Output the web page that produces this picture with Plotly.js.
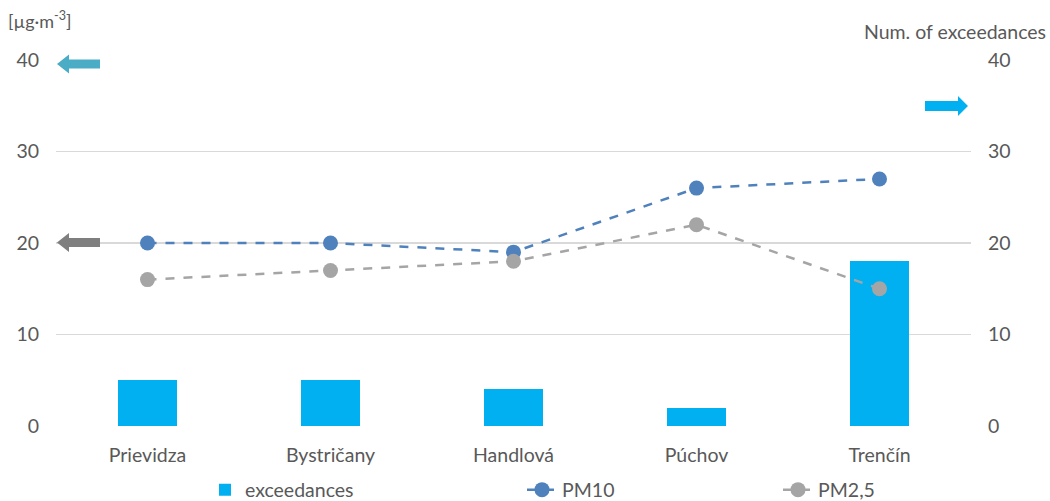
<!DOCTYPE html>
<html>
<head>
<meta charset="utf-8">
<script src="https://cdn.plot.ly/plotly-3.0.1.min.js"></script>
<style>html,body{margin:0;padding:0;background:#fff;}#chart{width:1050px;height:501px;}</style>
</head>
<body>
<div id="chart"></div>
<script>
const categories = ["Prievidza", "Bystričany", "Handlová", "Púchov", "Trenčín"];
const exceedances = [5, 5, 4, 2, 18];
const pm10 = [20, 20, 19, 26, 27];
const pm25 = [16, 17, 18, 22, 15];
const yTicks = [0, 10, 20, 30, 40];

const W = 1050, H = 501;
const M = {l: 56, r: 79, t: 60, b: 75};
const PW = W - M.l - M.r, PH = H - M.t - M.b;
const px = x => (x - M.l) / PW;
const py = y => (H - M.b - y) / PH;

function arrowPath(tipX, cy, dir, len, headLen, bodyH, headH) {
  const tail = tipX - dir * len;
  const hb = tipX - dir * headLen;
  const pts = [
    [tipX, cy],
    [hb, cy - headH / 2],
    [hb, cy - bodyH / 2],
    [tail, cy - bodyH / 2],
    [tail, cy + bodyH / 2],
    [hb, cy + bodyH / 2],
    [hb, cy + headH / 2]
  ];
  return 'M' + pts.map(p => px(p[0]).toFixed(5) + ',' + py(p[1]).toFixed(5)).join(' L') + ' Z';
}

const font = "Lato, 'Open Sans', 'Liberation Sans', sans-serif";
const txt = '#595959';
const fs = 19.5;

const traces = [
  {
    type: 'bar', name: 'exceedances', x: categories, y: exceedances,
    yaxis: 'y', marker: {color: '#00B0F0'}, width: 0.32, legend: 'legend'
  },
  {
    type: 'scatter', mode: 'lines+markers', name: 'PM10', x: categories, y: pm10,
    yaxis: 'y2', legend: 'legend2',
    line: {color: '#4F81BD', width: 2.5, dash: 'dash'},
    marker: {color: '#4F81BD', size: 15}
  },
  {
    type: 'scatter', mode: 'lines+markers', name: 'PM2,5', x: categories, y: pm25,
    yaxis: 'y2', legend: 'legend3',
    line: {color: '#A5A5A5', width: 2.5, dash: 'dash'},
    marker: {color: '#A5A5A5', size: 15}
  }
];

function leg(textStartPx) {
  return {
    orientation: 'h', xref: 'container', yref: 'container',
    x: (textStartPx - 40) / W, xanchor: 'left', y: (H - 490) / H, yanchor: 'middle',
    font: {family: font, size: fs, color: txt}, bgcolor: 'rgba(0,0,0,0)'
  };
}

const layout = {
  width: W, height: H,
  margin: M,
  paper_bgcolor: '#fff', plot_bgcolor: '#fff',
  font: {family: font, size: fs, color: txt},
  showlegend: true,
  legend: leg(245),
  legend2: leg(562),
  legend3: leg(818),
  xaxis: {
    type: 'category', range: [-0.5, 4.5], showgrid: false, zeroline: false,
    showline: false, ticks: '', tickfont: {family: font, size: fs, color: txt},
    ticklabelstandoff: 15, automargin: false
  },
  yaxis: {
    range: [0, 40], tickvals: yTicks, showgrid: true, gridcolor: '#D9D9D9', gridwidth: 1.3,
    zeroline: false, showline: false, ticks: '', automargin: false,
    tickfont: {family: font, size: fs, color: txt}, ticklabelstandoff: 16
  },
  yaxis2: {
    range: [0, 40], tickvals: yTicks, overlaying: 'y', side: 'right', showgrid: false,
    zeroline: false, showline: false, ticks: '', automargin: false,
    tickfont: {family: font, size: fs, color: txt}, ticklabelstandoff: 16
  },
  bargap: 0,
  annotations: [
    {text: '[µg·m<sup>-3</sup>]', xref: 'paper', yref: 'paper', x: px(6), y: py(20),
     xanchor: 'left', yanchor: 'middle', showarrow: false, font: {family: font, size: 18, color: txt}},
    {text: 'Num. of exceedances', xref: 'paper', yref: 'paper', x: px(1048), y: py(32),
     xanchor: 'right', yanchor: 'middle', showarrow: false, font: {family: font, size: fs, color: txt}}
  ],
  shapes: [
    {type: 'path', xref: 'paper', yref: 'paper', path: arrowPath(57, 64, -1, 43, 12, 9, 19),
     fillcolor: '#4BACC6', line: {width: 0}},
    {type: 'path', xref: 'paper', yref: 'paper', path: arrowPath(57, 242.5, -1, 43, 12, 9, 19),
     fillcolor: '#7F7F7F', line: {width: 0}},
    {type: 'path', xref: 'paper', yref: 'paper', path: arrowPath(968, 106, 1, 43, 10, 10, 20),
     fillcolor: '#00B0F0', line: {width: 0}}
  ]
};

Plotly.newPlot('chart', traces, layout, {displayModeBar: false, staticPlot: true});
</script>
</body>
</html>
